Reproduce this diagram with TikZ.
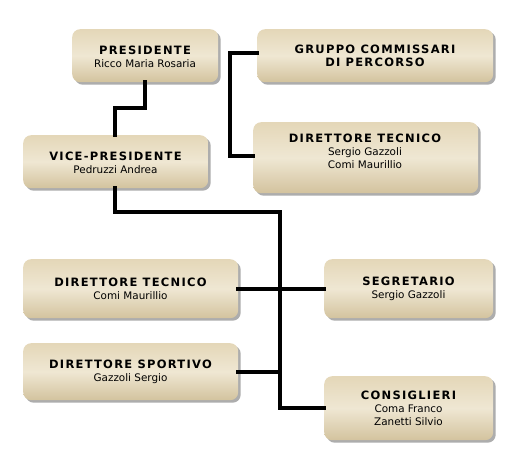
\documentclass[tikz,border=0pt]{standalone}
\usepackage{fontspec}
\setmainfont{DejaVu Sans}
\newfontfamily\ttlfont[LetterSpace=11]{DejaVu Sans Bold}
\usetikzlibrary{shadows}
\definecolor{boxtop}{HTML}{E4D7B8}
\definecolor{boxmid}{HTML}{EFE7D3}
\definecolor{boxbot}{HTML}{D3C39E}
\definecolor{shadowgray}{HTML}{8A8A8A}
\newcommand{\ttl}[1]{{\ttlfont\fontsize{11.5}{15}\selectfont #1}}
\newcommand{\nm}[1]{{\fontsize{10.4}{13}\selectfont #1}}
\tikzset{
  orgbox/.style={rounded corners=8pt, draw=none,
    top color=boxtop, bottom color=boxbot, middle color=boxmid,
    drop shadow={shadow xshift=2.5pt, shadow yshift=-2.5pt, fill=shadowgray, opacity=0.7},
    inner sep=0pt, anchor=north west},
  orgtxt/.style={align=center, inner sep=0pt, font=\fontsize{10.4}{13}\selectfont},
  conn/.style={line width=4pt, draw=black, line cap=rect, line join=miter}
}
\begin{document}
\begin{tikzpicture}[x=1pt,y=-1pt]
\useasboundingbox (0,0) rectangle (518,470);
% boxes
\node[orgbox, minimum width=146pt, minimum height=53pt] (pres) at (72,29) {};
\node[orgbox, minimum width=236pt, minimum height=53pt] (grup) at (257,29) {};
\node[orgbox, minimum width=225pt, minimum height=71pt] (dtr) at (253,122) {};
\node[orgbox, minimum width=185pt, minimum height=53pt] (vp) at (23,135) {};
\node[orgbox, minimum width=215pt, minimum height=59pt] (dtl) at (23,259) {};
\node[orgbox, minimum width=169pt, minimum height=59pt] (segr) at (324,259) {};
\node[orgbox, minimum width=215pt, minimum height=57pt] (ds) at (23,343) {};
\node[orgbox, minimum width=169pt, minimum height=64pt] (cons) at (324,376) {};
% texts
\node[orgtxt] (pres-t) at (145,56.5) {\ttl{PRESIDENTE}\\\nm{Ricco Maria Rosaria}};
\node[orgtxt] (grup-t) at (375,56) {\ttl{GRUPPO COMMISSARI}\\\ttl{DI PERCORSO}};
\node[orgtxt] (dtr-t) at (365,151) {\ttl{DIRETTORE TECNICO}\\\nm{Sergio Gazzoli}\\\nm{Comi Maurillio}};
\node[orgtxt] (vp-t) at (115.5,163) {\ttl{VICE-PRESIDENTE}\\\nm{Pedruzzi Andrea}};
\node[orgtxt] (dtl-t) at (130.5,289) {\ttl{DIRETTORE TECNICO}\\\nm{Comi Maurillio}};
\node[orgtxt] (segr-t) at (408.5,289) {\ttl{SEGRETARIO}\\\nm{Sergio Gazzoli}};
\node[orgtxt] (ds-t) at (130.5,372) {\ttl{DIRETTORE SPORTIVO}\\\nm{Gazzoli Sergio}};
\node[orgtxt] (cons-t) at (408.5,408.5) {\ttl{CONSIGLIERI}\\\nm{Coma Franco}\\\nm{Zanetti Silvio}};
% connector junctions
\coordinate (j1) at (145,108);
\coordinate (j2) at (115,108);
\coordinate (j3) at (115,212);
\coordinate (j4) at (280,212);
\coordinate (b1) at (230,53);
\coordinate (b2) at (230,156);
% connectors
\draw[conn] (pres.south -| j1) -- (j1) -- (j2) -- (vp.north -| j2);
\draw[conn] (grup.west |- b1) -- (b1) -- (b2) -- (dtr.west |- b2);
\draw[conn] (vp.south -| j3) -- (j3) -- (j4) -- (j4 |- cons.west) -- (cons.west);
\draw[conn] (dtl.east) -- (segr.west);
\draw[conn] (ds.east) -- (ds.east -| j4);
\end{tikzpicture}
\end{document}
